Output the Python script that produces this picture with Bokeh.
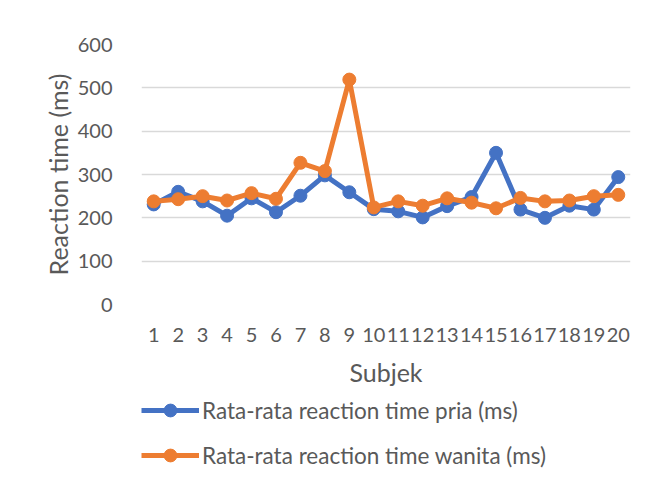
from bokeh.plotting import figure
from bokeh.layouts import column
from bokeh.models import FactorRange, Range1d, Legend, LegendItem, FixedTicker
from bokeh.embed import file_html
from bokeh.resources import INLINE

subjects = [str(i) for i in range(1, 21)]
pria = [231, 260, 238, 205, 245, 213, 251, 298, 259, 220, 215, 201, 227, 248, 350, 219, 200, 228, 219, 294]
wanita = [238, 243, 250, 240, 257, 244, 327, 308, 519, 224, 238, 228, 245, 235, 222, 246, 238, 240, 250, 253]
y_ticks = [0, 100, 200, 300, 400, 500, 600]

series_names = ["Rata-rata reaction time pria (ms)", "Rata-rata reaction time wanita (ms)"]
colors = ["#4472C4", "#ED7D31"]
FONT = "Lato"
TXT = "#595959"

p = figure(frame_width=489, frame_height=260, x_range=FactorRange(factors=subjects, range_padding=0),
           y_range=Range1d(0, 600), output_backend="svg", toolbar_location=None,
           min_border_left=141, min_border_right=16, min_border_top=44, min_border_bottom=90)
p.outline_line_color = None

for vals, c in zip([pria, wanita], colors):
    p.line(subjects, vals, line_color=c, line_width=5)
    p.scatter(subjects, vals, size=13, fill_color=c, line_color=c)

p.xgrid.grid_line_color = None
p.ygrid.grid_line_color = "#D9D9D9"
p.ygrid.grid_line_width = 1.5
p.yaxis.ticker = FixedTicker(ticks=y_ticks)

for ax in (p.xaxis[0], p.yaxis[0]):
    ax.axis_line_color = None
    ax.major_tick_line_color = None
    ax.minor_tick_line_color = None
    ax.major_label_text_font = FONT
    ax.major_label_text_font_size = "20px"
    ax.major_label_text_color = TXT
    ax.axis_label_text_font = FONT
    ax.axis_label_text_font_size = "25px"
    ax.axis_label_text_color = TXT
    ax.axis_label_text_font_style = "normal"

p.yaxis.axis_label = "Reaction time (ms)"
p.yaxis.major_label_standoff = 23
p.yaxis.axis_label_standoff = 2
p.xaxis.axis_label = "Subjek"
p.xaxis.major_label_standoff = 17
p.xaxis.axis_label_standoff = 12

# legend strip below the chart (hidden copies of the series feed the legend)
pl = figure(width=646, height=83, x_range=FactorRange(factors=subjects), y_range=Range1d(0, 600),
            output_backend="svg", toolbar_location=None, x_axis_location=None, y_axis_location=None,
            min_border_left=130, min_border_right=0, min_border_top=0, min_border_bottom=0)
pl.outline_line_color = None
pl.grid.visible = False
items = []
for vals, name, c in zip([pria, wanita], series_names, colors):
    l = pl.line(subjects, vals, line_color=c, line_width=5, visible=False)
    s = pl.scatter(subjects, vals, size=13, fill_color=c, line_color=c, visible=False)
    items.append(LegendItem(label=name, renderers=[l, s]))

legend = Legend(items=items, location="top_left", orientation="vertical",
                label_text_font=FONT, label_text_font_size="22.5px", label_text_color=TXT,
                glyph_width=58, glyph_height=32, label_height=32, label_standoff=3,
                spacing=13, padding=0, margin=0, border_line_color=None,
                background_fill_alpha=0, inactive_fill_alpha=0)
pl.add_layout(legend, "center")

layout = column(p, pl, spacing=0)
open("out.html", "w").write(file_html(layout, INLINE))
